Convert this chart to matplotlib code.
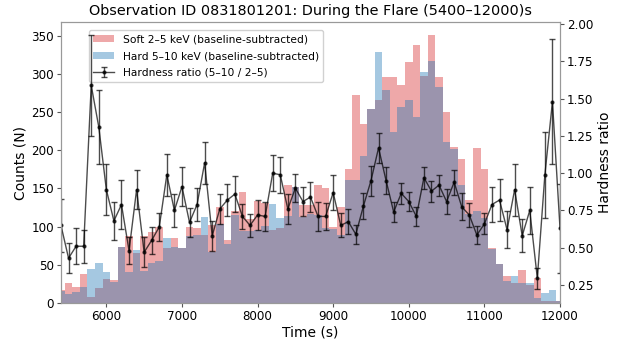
import numpy as np
import matplotlib
matplotlib.use("Agg")
import matplotlib.pyplot as plt

# bin centres (s)
time_bins = np.arange(5400, 12001, 100)

soft_counts = [17, 26, 21, 38, 8, 20, 31, 30, 74, 88,
               65, 88, 93, 99, 72, 85, 72, 99, 98, 89,
               102, 126, 83, 120, 146, 110, 133, 131, 96, 98,
               155, 152, 128, 128, 155, 150, 100, 126, 176, 272,
               234, 254, 266, 296, 296, 285, 316, 338, 297, 351,
               296, 250, 204, 188, 135, 203, 175, 72, 51, 36,
               26, 43, 24, 33, 2, 3, 2]

hard_counts = [16, 12, 14, 21, 44, 52, 41, 27, 73, 40,
               69, 42, 53, 55, 85, 74, 72, 88, 89, 113,
               67, 103, 77, 115, 94, 94, 95, 101, 130, 111,
               114, 152, 113, 116, 115, 98, 97, 89, 161, 161,
               192, 254, 329, 279, 224, 257, 266, 244, 303, 317,
               283, 211, 202, 155, 117, 120, 111, 71, 51, 29,
               36, 26, 26, 6, 13, 17, 3]

hardness = [0.65, 0.43, 0.51, 0.51, 1.59, 1.31, 0.89, 0.68, 0.79, 0.48,
            0.89, 0.47, 0.55, 0.64, 0.99, 0.75, 0.91, 0.67, 0.79, 1.07,
            0.58, 0.76, 0.82, 0.86, 0.71, 0.65, 0.72, 0.71, 1.00, 0.99,
            0.76, 0.90, 0.81, 0.84, 0.71, 0.71, 0.87, 0.65, 0.675, 0.59,
            0.78, 0.95, 1.17, 0.95, 0.74, 0.865, 0.81, 0.71, 0.97, 0.88,
            0.92, 0.81, 0.94, 0.775, 0.72, 0.585, 0.66, 0.79, 0.82, 0.62,
            0.89, 0.58, 0.75, 0.295, 0.99, 1.48, 0.63]

hardness_err = [0.18, 0.10, 0.12, 0.11, 0.34, 0.25, 0.17, 0.13, 0.165, 0.09,
                0.13, 0.10, 0.09, 0.095, 0.14, 0.11, 0.13, 0.10, 0.11, 0.14,
                0.10, 0.10, 0.11, 0.12, 0.085, 0.075, 0.10, 0.10, 0.12, 0.12,
                0.10, 0.095, 0.095, 0.10, 0.095, 0.09, 0.12, 0.08, 0.085, 0.065,
                0.09, 0.10, 0.10, 0.09, 0.07, 0.07, 0.065, 0.065, 0.075, 0.07,
                0.07, 0.085, 0.085, 0.09, 0.08, 0.06, 0.07, 0.12, 0.14, 0.125,
                0.175, 0.11, 0.155, 0.07, 0.29, 0.42, 0.30]

bin_width = 100

fig = plt.figure(figsize=(6.3, 3.4), dpi=100)
ax = fig.add_axes([0.0968, 0.1088, 0.7921, 0.8265])

ax.bar(time_bins, soft_counts, width=bin_width, color="tab:red", alpha=0.4,
       linewidth=0, label="Soft 2–5 keV (baseline-subtracted)")
ax.bar(time_bins, hard_counts, width=bin_width, color="tab:blue", alpha=0.4,
       linewidth=0, label="Hard 5–10 keV (baseline-subtracted)")
ax.set_xlim(5400, 12000)
ax.set_ylim(0, 368)
ax.set_yticks(np.arange(0, 351, 50))
ax.set_xticks(np.arange(6000, 12001, 1000))
ax.set_xlabel("Time (s)", fontsize=10, labelpad=2)
ax.set_ylabel("Counts (N)", fontsize=10, labelpad=3)
ax.set_title("Observation ID 0831801201: During the Flare (5400–12000)s",
             fontsize=10.4, pad=5)

ax2 = ax.twinx()
ax2.errorbar(time_bins, hardness, yerr=hardness_err, color="black", alpha=0.7,
             lw=1, marker="o", ms=2, capsize=2, elinewidth=1,
             label="Hardness ratio (5–10 / 2–5)")
ax2.set_ylim(0.129, 2.015)
ax2.set_yticks(np.arange(0.25, 2.01, 0.25))
ax2.set_ylabel("Hardness ratio", fontsize=10, labelpad=3)

for a in (ax, ax2):
    for s in a.spines.values():
        s.set_color("#999999")
    a.tick_params(colors="#555555", labelcolor="black", labelsize=8.6,
                  length=3, pad=2)

h1, l1 = ax.get_legend_handles_labels()
h2, l2 = ax2.get_legend_handles_labels()
ax.legend(h1 + h2, l1 + l2, loc="upper left", bbox_to_anchor=(0.045, 0.99),
          fontsize=7.7, framealpha=0.9, handlelength=2.0, labelspacing=0.62)

fig.savefig("out.png", dpi=100)
